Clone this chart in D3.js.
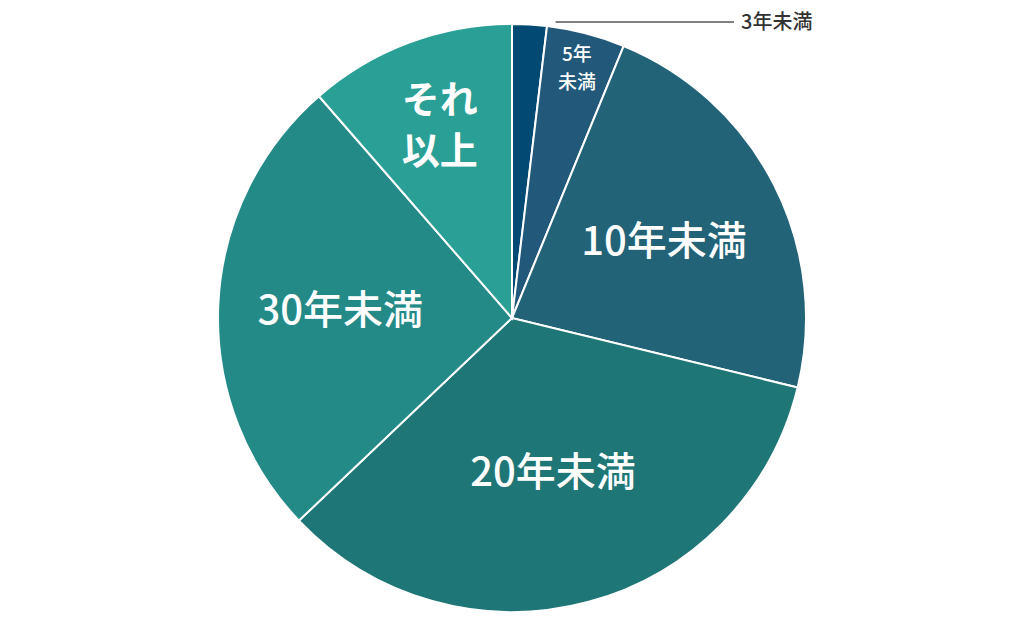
<!DOCTYPE html>
<html>
<head>
<meta charset="utf-8">
<script src="https://cdn.jsdelivr.net/npm/d3@7"></script>
<style>
  body { margin: 0; background: #fff; }
  svg { display: block; font-family: "Noto Sans CJK JP", "Noto Sans", sans-serif; }
</style>
</head>
<body>
<svg width="1024" height="637"></svg>
<script>
// shares (percent), clockwise from 12 o'clock
const categories = ["3年未満", "5年未満", "10年未満", "20年未満", "30年未満", "それ以上"]
const shares = [1.9, 4.3, 22.6, 34.1, 25.7, 11.4]
const colors = ["#024a73", "#22587a", "#226378", "#1f7676", "#248a88", "#2a9f96"]
// how each label is written inside its slice (lines)
const labelLines = [null, ["5年", "未満"], ["10年未満"], ["20年未満"], ["30年未満"], ["それ", "以上"]]

const svg = d3.select("svg")
const cx = 512, cy = 318, radius = 294

const g = svg.append("g").attr("transform", `translate(${cx},${cy})`)

const pie = d3.pie().sort(null).value(d => d)
const arcs = pie(shares)

const arc = d3.arc().innerRadius(0).outerRadius(radius)

g.selectAll("path")
  .data(arcs)
  .enter()
  .append("path")
  .attr("d", arc)
  .attr("fill", (d, i) => colors[i])
  .attr("stroke", "#fff")
  .attr("stroke-width", 2)

// label placement: radius fraction and font size per slice
const labelR = [0, 0.877, 0.58, 0.54, 0.585, 0.7]
const labelSize = [20, 19, 40, 40, 40, 38]
const labelWeight = [400, 500, 500, 500, 500, 700]
const lineGap = [0, 28, 0, 0, 0, 51]

arcs.forEach((d, i) => {
  if (!labelLines[i]) return
  const a = (d.startAngle + d.endAngle) / 2
  const r = radius * labelR[i]
  const x = Math.sin(a) * r
  const y = -Math.cos(a) * r
  const lines = labelLines[i]
  const t = g.append("text")
    .attr("text-anchor", "middle")
    .attr("fill", "#fff")
    .attr("font-size", labelSize[i])
    .attr("font-weight", labelWeight[i])
  lines.forEach((line, j) => {
    t.append("tspan")
      .attr("x", x)
      .attr("y", y + (j - (lines.length - 1) / 2) * lineGap[i])
      .attr("dy", "0.36em")
      .text(line)
  })
})

// leader for the tiny first slice
const first = arcs[0]
const midA = (first.startAngle + first.endAngle) / 2
const edgeX = Math.sin(midA) * radius
const lineY = -radius - 2
g.append("line")
  .attr("x1", edgeX + 26)
  .attr("y1", lineY)
  .attr("x2", 222)
  .attr("y2", lineY)
  .attr("stroke", "#555")
  .attr("stroke-width", 1.5)
g.append("text")
  .attr("x", 229)
  .attr("y", lineY)
  .attr("dy", "0.36em")
  .attr("fill", "#333")
  .attr("font-size", 20)
  .attr("font-weight", 500)
  .text(categories[0])
</script>
</body>
</html>
